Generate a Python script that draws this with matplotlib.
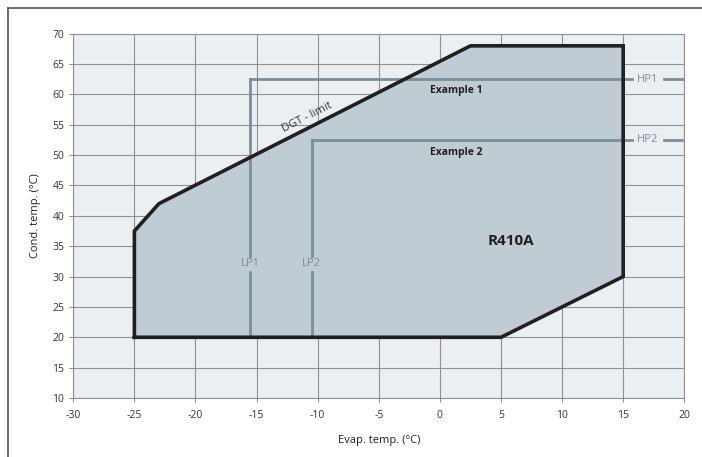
import matplotlib.pyplot as plt
from matplotlib.lines import Line2D

plt.rcParams['font.family'] = ['Open Sans', 'DejaVu Sans']
plt.rcParams['axes.unicode_minus'] = False

# envelope of the compressor (evap, cond)
env_x = [-25, -25, -23, 2.5, 15, 15, 5, -25]
env_y = [20, 37.5, 42, 68, 68, 30, 20, 20]

# example operating points
lp1, hp1 = -15.5, 62.5
lp2, hp2 = -10.5, 52.5

xticks = list(range(-30, 21, 5))
yticks = list(range(10, 71, 5))

fig = plt.figure(figsize=(7.02, 4.57), dpi=100)
ax = fig.add_axes([73.3 / 702, 1 - 398 / 457, (684.3 - 73.3) / 702, (398 - 33.7) / 457])

ax.set_facecolor('#eceff2')
ax.set_xlim(-30, 20)
ax.set_ylim(10, 70)
ax.set_xticks(xticks)
ax.set_yticks(yticks)
ax.grid(True, color='#8e9296', lw=0.8)
ax.set_axisbelow(True)
for s in ax.spines.values():
    s.set_color('#8e9296')
    s.set_linewidth(0.8)
ax.tick_params(colors='#8e9296', labelcolor='#333333', labelsize=7.5, length=3, width=0.8)
ax.tick_params(axis='x', pad=6)

ax.fill(env_x, env_y, color='#c0ccd4', zorder=2)

line_c = '#7a8e99'
# HP lines
ax.plot([lp1, 15.7], [hp1, hp1], color=line_c, lw=2, zorder=3)
ax.plot([lp2, 15.7], [hp2, hp2], color=line_c, lw=2, zorder=3)
ax.plot([18.3, 19.8], [hp1, hp1], color=line_c, lw=2, zorder=3)
ax.plot([18.3, 19.8], [hp2, hp2], color=line_c, lw=2, zorder=3)
ax.text(17.0, hp1, 'HP1', color=line_c, fontsize=8, ha='center', va='center')
ax.text(17.0, hp2, 'HP2', color=line_c, fontsize=8, ha='center', va='center')
# LP lines
for lp, top, lab in [(lp1, hp1, 'LP1'), (lp2, hp2, 'LP2')]:
    ax.plot([lp, lp], [20, 30.8], color=line_c, lw=2, zorder=3)
    ax.plot([lp, lp], [33.4, top], color=line_c, lw=2, zorder=3)
    ax.text(lp, 32.1, lab, color=line_c, fontsize=8, ha='center', va='center')

ax.plot(env_x, env_y, color='#231f20', lw=2.6, zorder=4, solid_joinstyle='miter')

ax.text(-0.8, 60.6, 'Example 1', fontsize=7.5, fontweight='bold', color='#231f20', va='center')
ax.text(-0.8, 50.4, 'Example 2', fontsize=7.5, fontweight='bold', color='#231f20', va='center')
ax.text(5.8, 35.8, 'R410A', fontsize=11, fontweight='bold', color='#231f20', ha='center', va='center')
ax.text(-10.9, 56.2, 'DGT - limit', fontsize=8, color='#333333', ha='center', va='center',
        rotation=27, rotation_mode='anchor')

ax.set_xlabel('Evap. temp. (°C)', fontsize=8, color='#231f20', labelpad=10)
ax.set_ylabel('Cond. temp. (°C)', fontsize=8, color='#231f20', labelpad=8)

# outer frame (top and left only visible)
fig.add_artist(Line2D([8 / 702, 1], [1 - 8 / 457, 1 - 8 / 457], color='#555555', lw=1.2))
fig.add_artist(Line2D([8 / 702, 8 / 702], [0, 1 - 8 / 457], color='#555555', lw=1.2))

fig.savefig('out.png', dpi=100)
